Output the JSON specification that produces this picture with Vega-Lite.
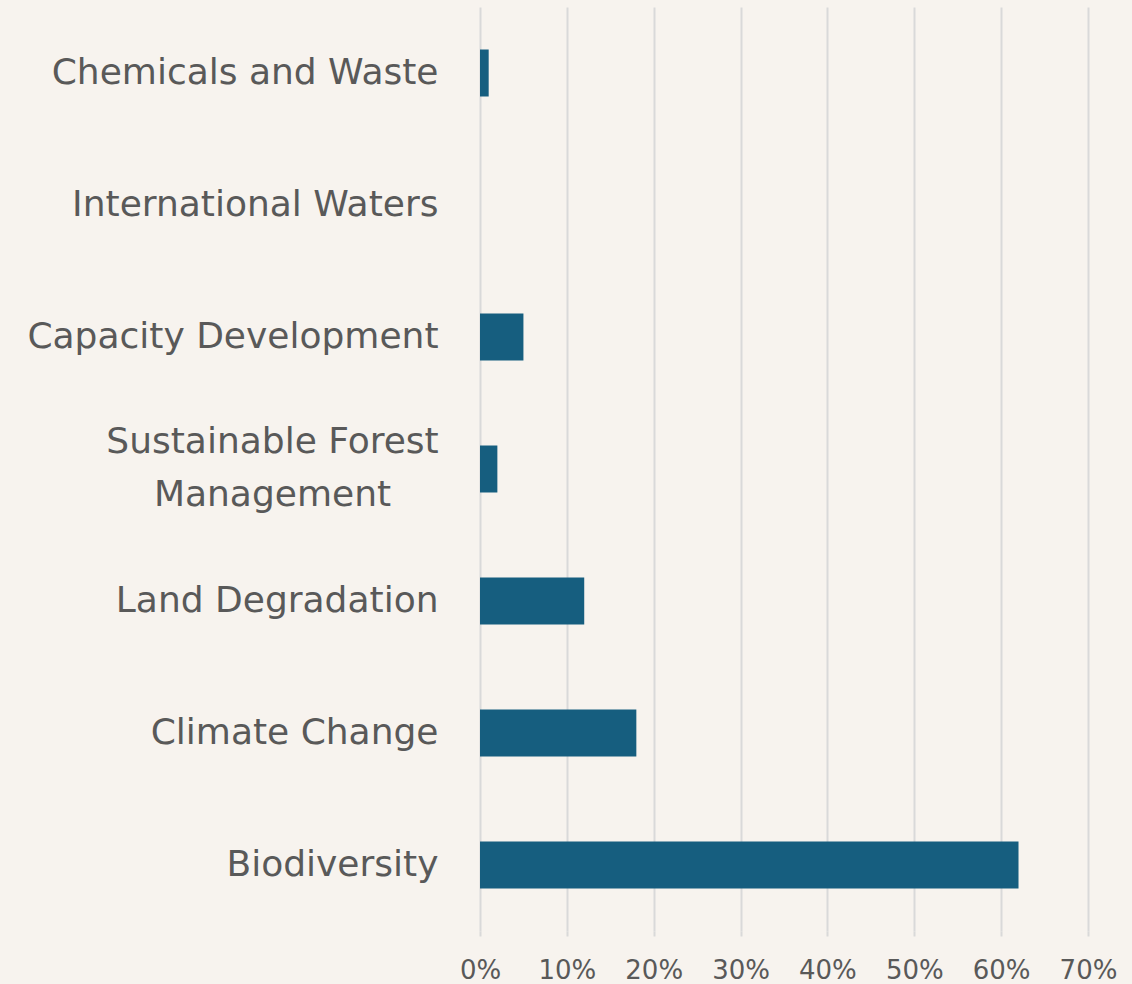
{
  "$schema": "https://vega.github.io/schema/vega-lite/v6.json",
  "autosize": "none",
  "padding": {"left": 480, "top": 7, "right": 44, "bottom": 53},
  "width": 608,
  "height": 924,
  "background": "#f7f3ee",
  "config": {
    "view": {"stroke": null},
    "font": "DejaVu Sans"
  },
  "data": {
    "values": [
      {"area": "Chemicals and Waste", "share": 0.01},
      {"area": "International Waters", "share": 0.0},
      {"area": "Capacity Development", "share": 0.05},
      {"area": "Sustainable Forest Management", "share": 0.02},
      {"area": "Land Degradation", "share": 0.12},
      {"area": "Climate Change", "share": 0.18},
      {"area": "Biodiversity", "share": 0.62}
    ]
  },
  "mark": {"type": "bar", "color": "#165e7f"},
  "encoding": {
    "y": {
      "field": "area",
      "type": "nominal",
      "sort": null,
      "scale": {"paddingInner": 0.644, "paddingOuter": 0.322},
      "axis": {
        "title": null,
        "domain": false,
        "ticks": false,
        "labelPadding": {"condition": {"test": "datum.value == 'Sustainable Forest Management'", "value": 208}, "value": 42},
        "labelAlign": {"condition": {"test": "datum.value == 'Sustainable Forest Management'", "value": "center"}, "value": "right"},
        "labelFont": "DejaVu Sans",
        "labelFontSize": 36,
        "labelColor": "#595959",
        "labelLimit": 0,
        "labelLineHeight": 53,
        "labelOffset": {"condition": {"test": "datum.value == 'Sustainable Forest Management'", "value": -27}, "value": 0},
        "labelExpr": "datum.value == 'Sustainable Forest Management' ? ['Sustainable Forest', 'Management'] : datum.value"
      }
    },
    "x": {
      "field": "share",
      "type": "quantitative",
      "scale": {"domain": [0, 0.7], "nice": false},
      "axis": {
        "title": null,
        "format": ".0%",
        "values": [0, 0.1, 0.2, 0.3, 0.4, 0.5, 0.6, 0.7],
        "domain": false,
        "ticks": true,
        "tickSize": 5,
        "tickColor": "#d9d9d9",
        "tickWidth": 2,
        "grid": true,
        "gridColor": "#d9d9d9",
        "gridWidth": 2,
        "labelFlush": false,
        "labelOverlap": false,
        "labelPadding": 21,
        "labelFont": "DejaVu Sans",
        "labelFontSize": 26,
        "labelColor": "#595959"
      }
    }
  }
}
